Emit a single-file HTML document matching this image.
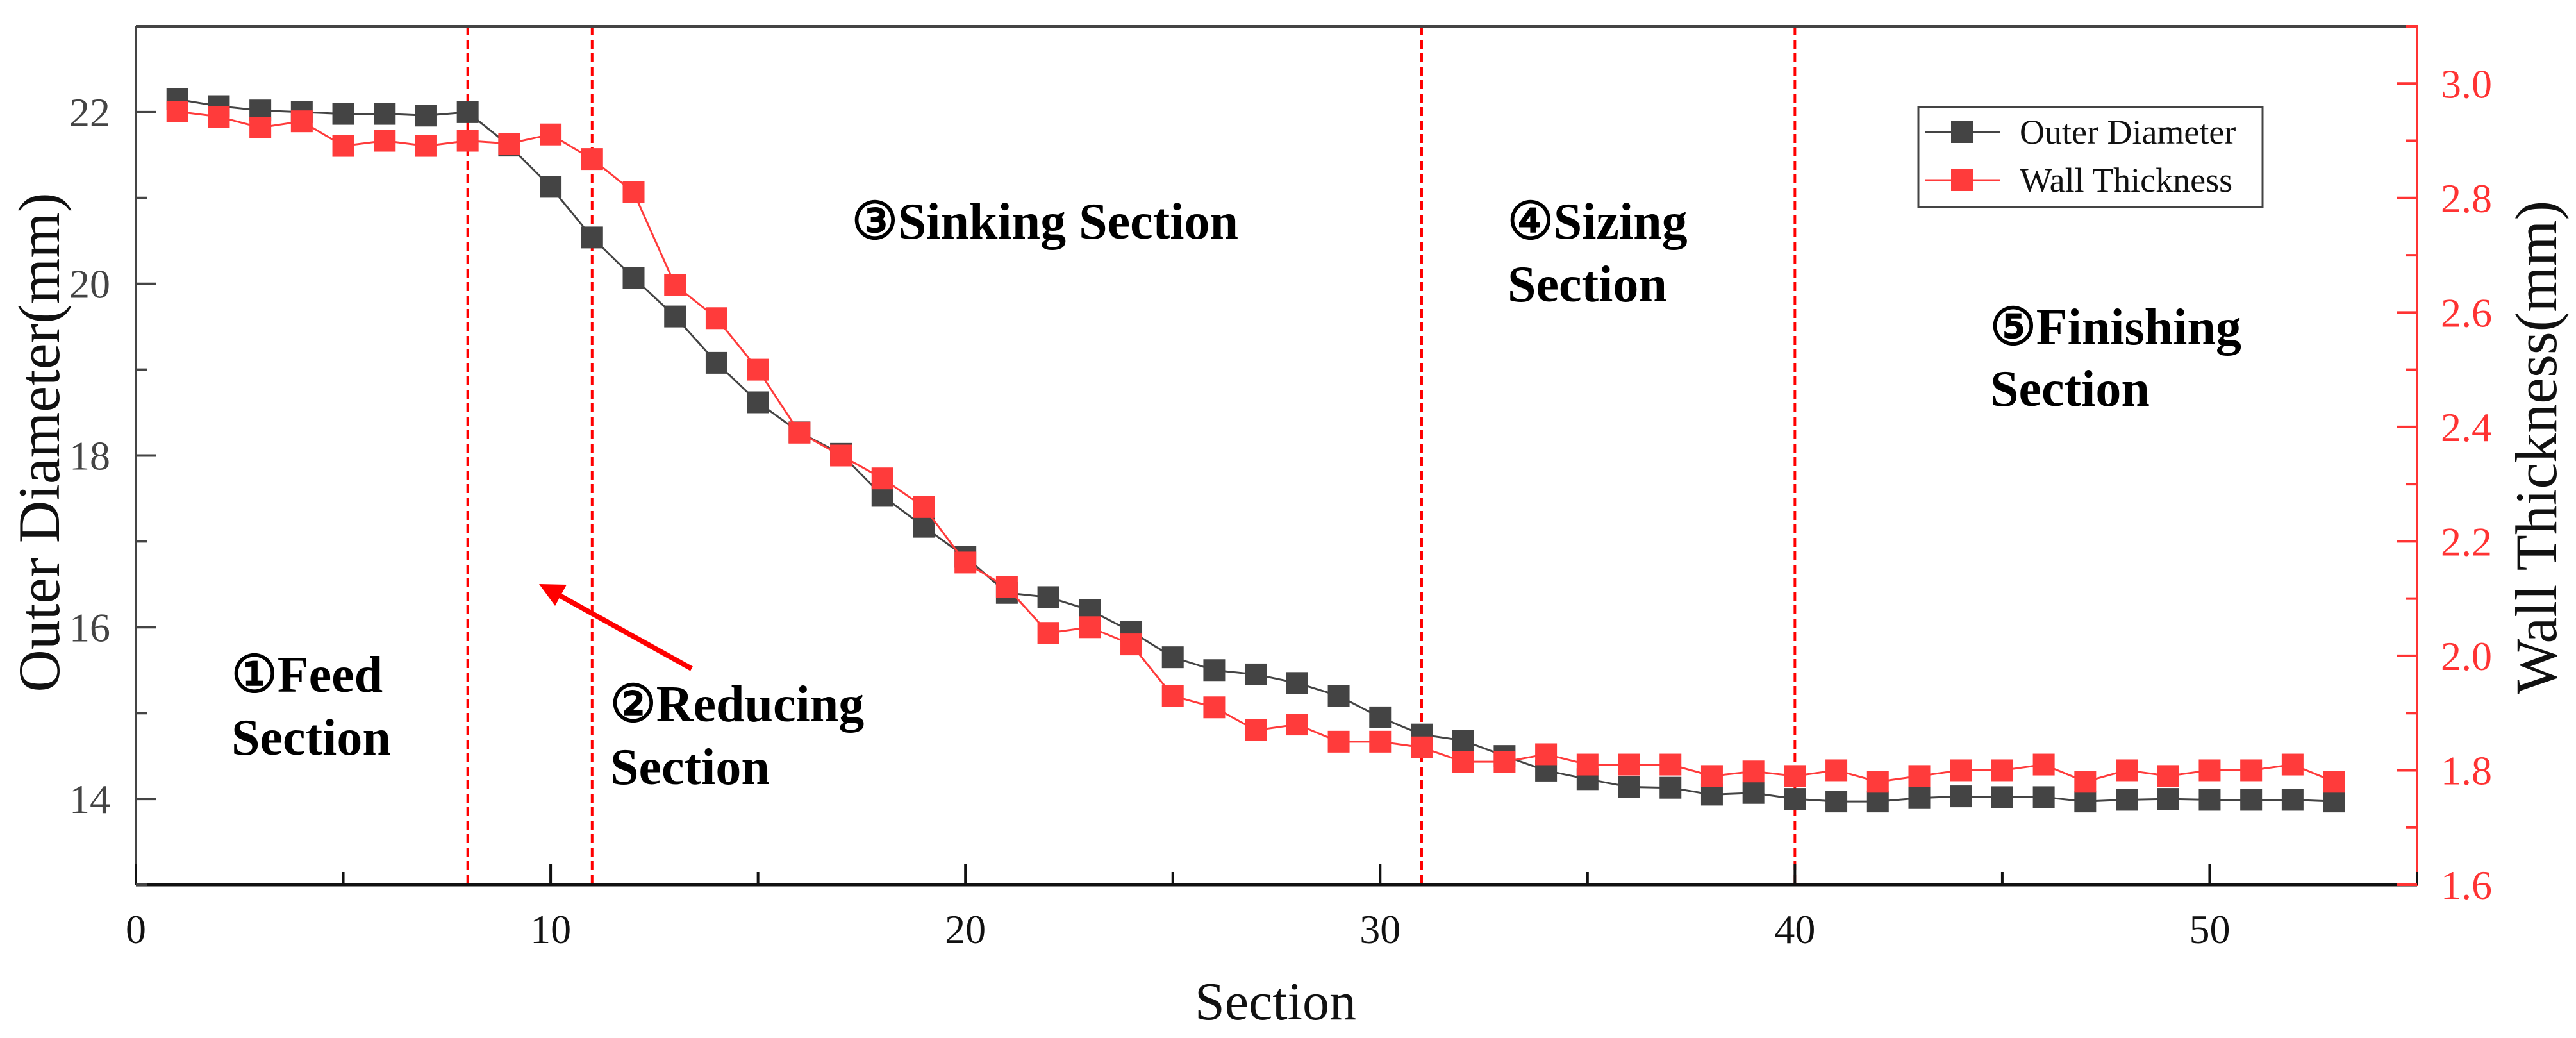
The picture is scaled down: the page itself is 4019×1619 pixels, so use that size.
<!DOCTYPE html>
<html><head><meta charset="utf-8"><style>
html,body{margin:0;padding:0;background:#fff;}
svg{display:block;}
</style></head><body>
<svg id="chart" width="4019" height="1619" viewBox="0 0 4019 1619" xmlns="http://www.w3.org/2000/svg" font-family="'Liberation Serif', serif">
<g id="grid"></g>
</svg>
<script>
const sections = [1,2,3,4,5,6,7,8,9,10,11,12,13,14,15,16,17,18,19,20,21,22,23,24,25,26,27,28,29,30,31,32,33,34,35,36,37,38,39,40,41,42,43,44,45,46,47,48,49,50,51,52,53];
const outerDiameter = [22.15,22.07,22.02,22.0,21.98,21.98,21.96,22.0,21.61,21.13,20.54,20.07,19.62,19.08,18.62,18.27,18.02,17.53,17.17,16.82,16.4,16.35,16.2,15.95,15.65,15.5,15.45,15.35,15.2,14.95,14.75,14.68,14.5,14.33,14.23,14.14,14.13,14.05,14.07,14.0,13.97,13.97,14.01,14.03,14.02,14.02,13.97,13.99,14.0,13.99,13.99,13.99,13.97];
const wallThickness = [2.951,2.942,2.923,2.934,2.891,2.90,2.891,2.90,2.895,2.911,2.868,2.81,2.648,2.59,2.50,2.39,2.35,2.31,2.26,2.163,2.12,2.04,2.05,2.02,1.93,1.91,1.87,1.88,1.85,1.85,1.84,1.815,1.815,1.828,1.81,1.81,1.81,1.79,1.798,1.79,1.80,1.78,1.79,1.80,1.80,1.81,1.78,1.80,1.79,1.80,1.80,1.81,1.78];
const xTicks = [0,10,20,30,40,50];
const leftTicks = [14,16,18,20,22];
const rightTicks = ["1.6","1.8","2.0","2.2","2.4","2.6","2.8","3.0"];
const sectionBounds = [8,11,31,40];

const L=212,R=3771,T=41,B=1380;
const X=v=>L+(v-0)/(55-0)*(R-L);
const YL=v=>B-(v-13)/(23-13)*(B-T);
const YR=v=>B-(v-1.6)/(3.1-1.6)*(B-T);
const svg=document.getElementById('chart');
const NS='http://www.w3.org/2000/svg';
function mk(tag,attrs,parent){const e=document.createElementNS(NS,tag);for(const k in attrs)e.setAttribute(k,attrs[k]);(parent||svg).appendChild(e);return e;}
function txt(s,attrs){const e=mk('text',attrs);e.textContent=s;return e;}

sectionBounds.forEach(b=>{
  const l=mk('line',{x1:X(b),x2:X(b),y1:T,y2:B,stroke:'#f00','stroke-width':4,'stroke-dasharray':'14 7'});
  
  
});

function series(vals,yf,color,name){
  const pts=sections.map((s,i)=>X(s)+','+yf(vals[i])).join(' ');
  const pl=mk('polyline',{points:pts,fill:'none',stroke:color,'stroke-width':3});
  
  
  sections.forEach((s,i)=>{
    const r=mk('rect',{x:X(s)-17,y:yf(vals[i])-17,width:34,height:34,fill:color});
    
    
  });
}
series(outerDiameter,YL,'#444444','outer-diameter');
series(wallThickness,YR,'#ff3b3b','wall-thickness');

const ax=mk('g',{});


mk('line',{x1:L,x2:R,y1:T,y2:T,stroke:'#444','stroke-width':4},ax);
mk('line',{x1:L,x2:L,y1:T,y2:B,stroke:'#444','stroke-width':4},ax);
mk('line',{x1:L,x2:R,y1:B,y2:B,stroke:'#111','stroke-width':5},ax);
mk('line',{x1:R,x2:R,y1:T-2,y2:B+2,stroke:'#f33','stroke-width':4},ax);

for(let v=0;v<=55;v+=5){
  const major=v%10===0;
  mk('line',{x1:X(v),x2:X(v),y1:B,y2:B-(major?32:20),stroke:'#111','stroke-width':4},ax);
}
xTicks.forEach(v=>{
  const t=txt(String(v),{x:X(v),y:1471,'font-size':64,'text-anchor':'middle',fill:'#111'});
  
  
});
for(let v=13;v<=23;v+=1){
  const major=v%2===0;
  mk('line',{x1:L,x2:L+(major?32:18),y1:YL(v),y2:YL(v),stroke:'#444','stroke-width':4},ax);
}
leftTicks.forEach(v=>{
  const t=txt(String(v),{x:172,y:YL(v)+22,'font-size':64,'text-anchor':'end',fill:'#444'});
  
  
});
for(let k=16;k<=31;k++){
  const v=k/10, major=k%2===0;
  mk('line',{x1:R,x2:R-(major?32:18),y1:YR(v),y2:YR(v),stroke:'#f33','stroke-width':4},ax);
}
rightTicks.forEach(s=>{
  const t=txt(s,{x:3808,y:YR(parseFloat(s))+22,'font-size':64,fill:'#f33'});
  
  
});

let t;
t=txt('Section',{x:1990,y:1590,'font-size':84,'text-anchor':'middle',fill:'#111'});


t=txt('Outer Diameter(mm)',{x:0,y:0,'font-size':92,'text-anchor':'middle',fill:'#111',transform:'translate(92,690) rotate(-90)'});


t=txt('Wall Thickness(mm)',{x:0,y:0,'font-size':92,'text-anchor':'middle',fill:'#111',transform:'translate(3988,698) rotate(-90)'});



const ann=[['①Feed',361,1079,'feed-label'],['Section',361,1177,'feed-label-2'],
['②Reducing',952,1125,'reducing-label'],['Section',952,1223,'reducing-label-2'],
['③Sinking Section',1329,372,'sinking-label'],
['④Sizing',2352,372,'sizing-label'],['Section',2352,470,'sizing-label-2'],
['⑤Finishing',3105,537,'finishing-label'],['Section',3105,633,'finishing-label-2']];
ann.forEach(a=>{
  const e=txt(a[0],{x:a[1],y:a[2],'font-size':80,'font-weight':'bold',fill:'#000','font-family':"'Liberation Serif','DejaVu Serif',serif"});
  
  
});
const ar=mk('g',{});


mk('line',{x1:1079,y1:1043,x2:870,y2:927,stroke:'#f00','stroke-width':8},ar);
mk('polygon',{points:'841,911 884,912 866,945',fill:'#f00'},ar);

const lg=mk('g',{});


mk('rect',{x:2993,y:167,width:537,height:156,fill:'#fff',stroke:'#444','stroke-width':3},lg);
[['Outer Diameter','#444444',206,'legend-outer-diameter'],['Wall Thickness','#ff3b3b',281,'legend-wall-thickness']].forEach(e=>{
  const g=mk('g',{},lg);
  
  
  mk('line',{x1:3003,x2:3120,y1:e[2],y2:e[2],stroke:e[1],'stroke-width':3},g);
  mk('rect',{x:3044,y:e[2]-17,width:34,height:34,fill:e[1]},g);
  const tt=mk('text',{x:3151,y:e[2]+18,'font-size':54,fill:'#111'},g);
  tt.textContent=e[0];
});
</script>
</body></html>
